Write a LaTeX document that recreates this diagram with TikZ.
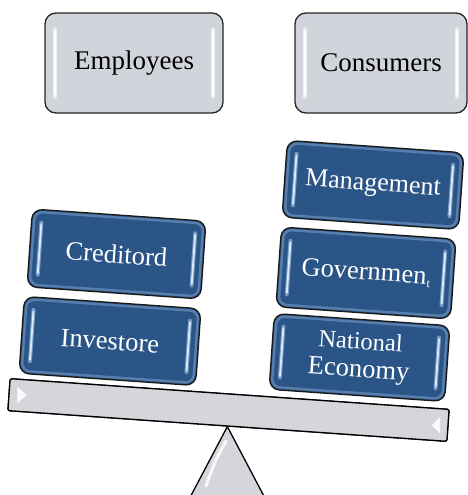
\documentclass[tikz,border=0pt]{standalone}
\usepackage{fontspec}
\setmainfont{Liberation Serif}
\newfontfamily\labelfont{Liberation Serif}
\usetikzlibrary{calc}

\definecolor{btnblue}{HTML}{2B5586}
\definecolor{btnrim}{HTML}{6C90BD}
\definecolor{barcore}{HTML}{DCEAF8}
\definecolor{barhalo}{HTML}{86AAD4}
\definecolor{panelgray}{HTML}{D2D4DC}
\definecolor{beamgray}{HTML}{D5D6DB}

\tikzset{
  graybtn/.style={draw=black!85, line width=1.3pt, fill=panelgray,
    rounded corners=11pt, minimum height=100pt, inner sep=0pt,
    font=\labelfont\fontsize{27}{29}\selectfont, text=black},
  bluebtn/.style={draw=black!90, line width=1.3pt, fill=btnblue,
    rounded corners=10pt, inner sep=0pt, rotate=-4, align=center,
    font=\labelfont\fontsize{26.5}{28}\selectfont, text=white},
  bluerim/.style={draw=btnrim, line width=2.4pt, opacity=0.7,
    rounded corners=8pt, inner sep=0pt, rotate=-4},
  beambar/.style={draw=black, line width=1.3pt, fill=beamgray,
    rounded corners=1.5pt, inner sep=0pt, rotate=-4,
    minimum width=440pt, minimum height=32pt},
  fulcrum/.style={draw=black, line width=1.3pt, fill=beamgray, line join=round},
  shine/.style={white, line cap=round}
}

% glossy vertical highlights near the left and right edges of a button
\newcommand\btnbars[3]{%
  \foreach \u in {0.06,0.94}{
    \coordinate (bt) at ($(#1.north west)!\u!(#1.north east)$);
    \coordinate (bb) at ($(#1.south west)!\u!(#1.south east)$);
    \draw[#2, line width=4pt, line cap=round, opacity=0.8]
      ($(bt)!0.17!(bb)$) -- ($(bt)!0.83!(bb)$);
    \draw[#3, line width=1.8pt, line cap=round]
      ($(bt)!0.19!(bb)$) -- ($(bt)!0.81!(bb)$);
  }}

% name, x, y, width, height, label
\newcommand\bluebutton[6]{%
  \node[bluebtn, minimum width=#4pt, minimum height=#5pt] (#1) at (#2,#3) {#6};
  \node[bluerim, minimum width=#4pt-5pt, minimum height=#5pt-5pt] (#1-rim) at (#2,#3) {};
  \btnbars{#1}{barhalo}{barcore}}

\begin{document}
\begin{tikzpicture}[x=1pt,y=-1pt]
\useasboundingbox (0,0) rectangle (468,495);
\clip (0,0) rectangle (468,495);

% top panels
\node[graybtn, minimum width=178pt] (emp) at (134,63) {Employees};
\btnbars{emp}{white!80!panelgray}{white}
\node[graybtn, minimum width=172pt] (cons) at (381,63) {Consumers};
\btnbars{cons}{white!80!panelgray}{white}

% fulcrum and beam
\node[beambar] (beam) at (228.5,410) {};
\draw[fulcrum] (beam.south) -- ++(-49,93) -- ++(98,0) -- cycle;
\node[beambar] (beamtop) at (228.5,410) {};
\fill[white, opacity=0.9] (17.3,386.7) -- (26.7,395) -- (17.3,403.3) -- cycle;
\fill[white, opacity=0.9] (440,417.3) -- (431.7,425.3) -- (440,433.3) -- cycle;
\draw[shine, line width=3pt, opacity=0.85] (226,441) .. controls (215,461) .. (206,486);

% left stack
\bluebutton{inv}{110}{341}{177}{77}{Investore}
\bluebutton{cred}{116.5}{254}{174}{78}{Creditord}

% right stack
\bluebutton{natl}{359.5}{357.5}{176}{76}{\labelfont\fontsize{24.5}{27.5}\selectfont National\\Economy}
\bluebutton{gov}{366}{273}{175}{80}{Governmen\kern0.6pt\raisebox{-4pt}{\fontsize{12}{12}\selectfont t}}
\bluebutton{mgmt}{373}{185}{177}{77}{\labelfont\fontsize{26}{28}\selectfont Management}
\end{tikzpicture}
\end{document}
